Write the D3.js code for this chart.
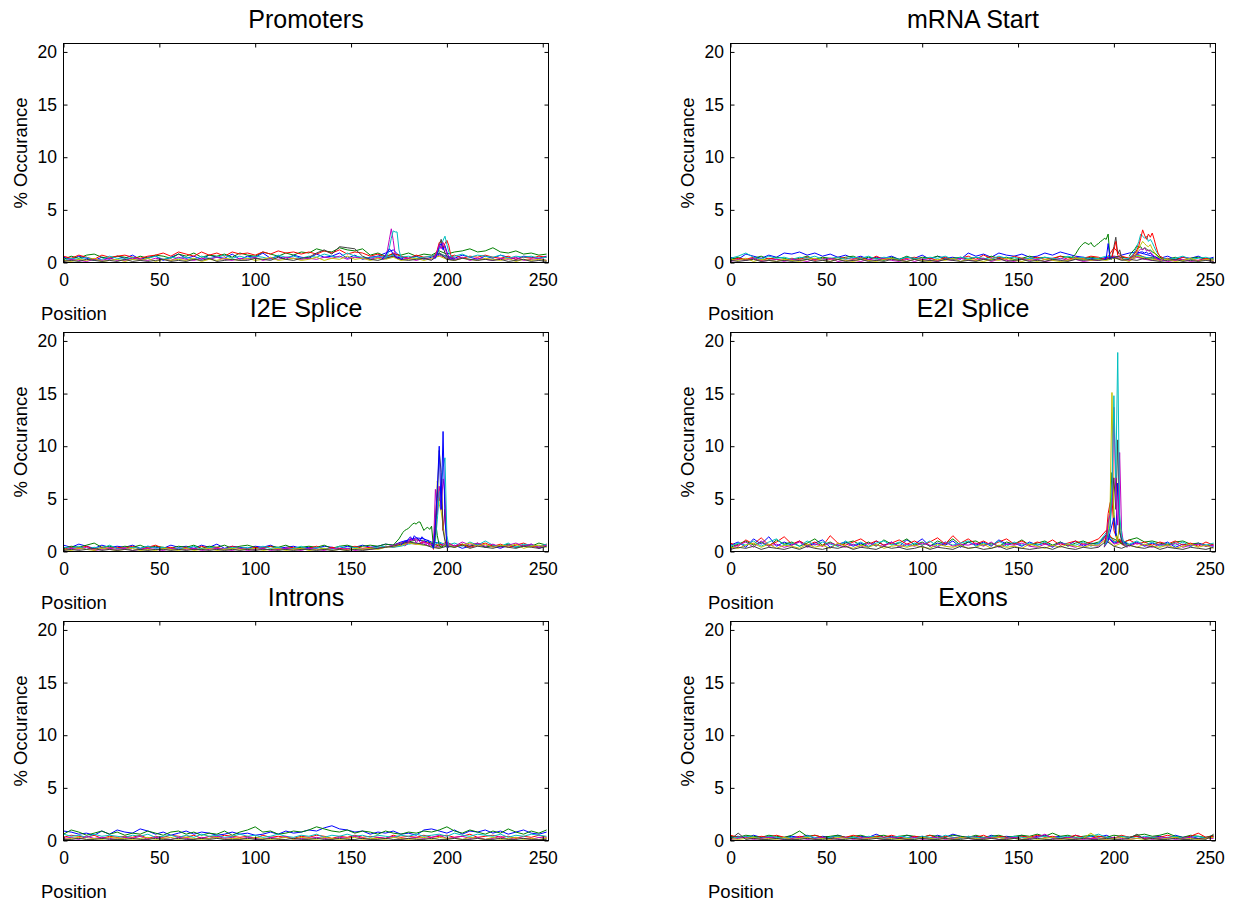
<!DOCTYPE html>
<html><head><meta charset="utf-8">
<script src="https://cdn.jsdelivr.net/npm/d3@7"></script>
<style>
html,body{margin:0;padding:0;background:#fff;}
svg{display:block;}
text{font-family:"Liberation Sans",Arial,Helvetica,sans-serif;fill:#000;}
</style>
</head><body>
<svg id="chart" width="1240" height="901"></svg>
<script>
// ---------------- DATA ----------------
const positions = d3.range(0, 253, 4); // 0,4,...,252 (64 sample positions)
const xTicks = [0, 50, 100, 150, 200, 250];
const yTicks = [0, 5, 10, 15, 20];
const panelTitles = ["Promoters", "mRNA Start", "I2E Splice", "E2I Splice", "Introns", "Exons"];
const xLabel = "Position";
const yLabel = "% Occurance";
// series order: 0 blue, 1 green, 2 red, 3 cyan, 4 magenta, 5 yellow, 6 black

const promotersBase = [
 [0.5,0.3,0.6,0.4,0.2,0.5,0.3,0.6, 0.4,0.7,0.3,0.5,0.6,0.2,0.5,0.8, 0.4,0.6,0.3,0.7,0.5,0.4,0.8,0.3, 0.6,0.5,0.9,0.4,0.6,0.3,0.7,0.5, 0.4,0.8,0.5,0.6,0.9,0.4,0.7,0.3, 0.5,0.6,0.9,1.2,0.5,0.4,0.6,0.3, 0.5,0.8,0.6,0.4,0.7,0.5,0.3,0.6, 0.4,0.7,0.5,0.3,0.6,0.5,0.4,0.6],
 [0.3,0.6,0.4,0.7,0.8,0.5,0.4,0.6, 0.5,0.3,0.6,0.4,0.7,0.6,0.4,0.8, 0.6,0.9,0.5,0.7,0.6,0.8,0.5,0.9, 0.7,0.6,1.0,0.8,0.6,0.9,0.7,1.0, 0.9,1.3,1.1,1.0,1.4,1.2,1.1,1.3, 0.7,0.9,0.6,0.8,0.7,0.9,0.6,0.8, 0.7,1.1,0.8,1.0,1.1,1.3,1.0,1.1, 1.4,1.0,0.9,1.1,0.8,0.9,0.7,0.8],
 [0.6,0.4,0.7,0.5,0.3,0.7,0.5,0.6, 0.7,0.5,0.4,0.6,0.7,0.9,0.6,1.0, 0.8,0.6,1.0,0.7,0.9,0.6,1.0,0.8, 0.9,0.7,1.0,0.8,1.1,0.9,1.0,0.8, 1.0,0.8,1.1,0.9,1.2,0.8,1.0,0.9, 0.6,0.8,0.5,0.9,0.6,0.4,0.7,0.5, 0.6,0.9,0.5,0.7,0.4,0.6,0.5,0.7, 0.5,0.4,0.6,0.3,0.5,0.4,0.6,0.5],
 [0.2,0.4,0.3,0.5,0.2,0.3,0.6,0.4, 0.3,0.5,0.2,0.4,0.6,0.3,0.5,0.4, 0.5,0.3,0.6,0.4,0.5,0.7,0.4,0.6, 0.4,0.6,0.5,0.3,0.7,0.5,0.6,0.4, 0.6,0.5,0.8,0.6,0.5,0.9,0.6,0.5, 0.4,0.6,0.5,0.7,0.5,0.6,0.4,0.5, 0.6,0.9,0.5,0.6,0.8,0.5,0.7,0.6, 0.5,0.7,0.4,0.6,0.5,0.6,0.4,0.5],
 [0.1,0.3,0.2,0.1,0.3,0.2,0.4,0.2, 0.2,0.4,0.3,0.2,0.4,0.3,0.2,0.5, 0.3,0.2,0.4,0.3,0.5,0.3,0.2,0.4, 0.3,0.5,0.2,0.4,0.3,0.5,0.4,0.3, 0.4,0.3,0.5,0.4,0.6,0.3,0.5,0.4, 0.3,0.5,0.4,0.6,0.3,0.4,0.2,0.4, 0.3,0.7,0.4,0.3,0.5,0.2,0.4,0.3, 0.2,0.4,0.3,0.5,0.2,0.3,0.4,0.2],
 [0.2,0.1,0.3,0.2,0.4,0.1,0.2,0.3, 0.1,0.3,0.2,0.4,0.1,0.3,0.2,0.3, 0.2,0.4,0.1,0.3,0.2,0.4,0.3,0.2, 0.4,0.2,0.3,0.5,0.2,0.3,0.4,0.2, 0.3,0.5,0.2,0.4,0.3,0.6,0.3,0.4, 0.2,0.4,0.3,0.5,0.2,0.3,0.4,0.2, 0.4,0.6,0.3,0.2,0.4,0.3,0.2,0.4, 0.3,0.2,0.4,0.1,0.3,0.2,0.3,0.2],
 [0.1,0.2,0.1,0.3,0.2,0.1,0.2,0.1, 0.3,0.1,0.2,0.1,0.2,0.3,0.1,0.2, 0.1,0.3,0.2,0.4,0.1,0.2,0.3,0.2, 0.2,0.4,0.3,0.2,0.5,0.3,0.2,0.4, 0.5,0.9,1.2,0.8,1.5,1.4,1.3,0.6, 0.3,0.2,0.4,0.6,0.3,0.2,0.3,0.4, 0.2,0.9,0.3,0.2,0.4,0.3,0.2,0.3, 0.2,0.3,0.1,0.2,0.3,0.1,0.2,0.1]
];
const promotersPeaks = [
 {series:4, start:166, values:[0.4,0.3,0.6,1.2,2.2,3.2,2.1,0.8,0.5,0.4,0.6,0.3]},
 {series:3, start:166, values:[0.3,0.5,0.4,0.7,1.4,2.3,3.0,2.9,2.9,1.2,0.5,0.4]},
 {series:0, start:166, values:[0.3,0.5,0.7,1.0,1.3,1.1,0.8,0.6,0.4,0.5,0.3,0.4]},
 {series:2, start:193, values:[0.5,0.7,1.2,1.9,2.0,1.4,1.8,2.1,1.6,0.7,0.5,0.4]},
 {series:3, start:193, values:[0.4,0.5,0.8,1.3,1.6,2.1,2.5,1.7,1.0,0.6,0.4,0.5]},
 {series:6, start:193, values:[0.3,0.6,1.0,1.6,2.2,1.5,0.9,0.6,0.4,0.5,0.3,0.4]},
 {series:0, start:193, values:[0.5,0.4,0.9,1.5,1.8,1.2,1.6,1.0,0.5,0.3,0.4,0.3]},
 {series:4, start:193, values:[0.4,0.6,1.1,1.7,1.3,1.9,1.4,0.8,0.6,0.4,0.5,0.3]}
];

const mrnaBase = [
 [0.5,0.3,0.8,0.6,0.4,0.7,0.5,0.9, 0.8,1.0,0.7,0.9,0.6,0.8,0.5,0.7, 0.4,0.6,0.3,0.5,0.4,0.6,0.3,0.5, 0.4,0.7,0.3,0.6,0.4,0.5,0.3,0.9, 0.6,0.8,0.5,0.9,0.7,0.6,0.8,0.5, 0.6,0.9,0.7,1.0,0.8,0.6,0.5,0.4, 0.3,0.5,0.4,0.7,0.9,1.0,0.8,0.6, 0.4,0.6,0.3,0.5,0.4,0.6,0.3,0.5],
 [0.3,0.5,0.2,0.4,0.6,0.3,0.5,0.4, 0.2,0.4,0.6,0.3,0.5,0.4,0.3,0.5, 0.6,0.3,0.5,0.4,0.2,0.5,0.3,0.6, 0.3,0.5,0.4,0.6,0.3,0.4,0.5,0.3, 0.5,0.3,0.6,0.4,0.5,0.3,0.4,0.6, 0.4,0.5,0.3,0.6,0.5,0.4,0.3,0.5, 0.4,0.3,0.6,0.5,0.4,0.6,0.3,0.5, 0.4,0.3,0.5,0.2,0.4,0.5,0.3,0.4],
 [0.2,0.4,0.3,0.5,0.2,0.4,0.3,0.2, 0.4,0.3,0.5,0.2,0.4,0.3,0.5,0.4, 0.3,0.5,0.2,0.6,0.3,0.4,0.2,0.4, 0.5,0.3,0.4,0.2,0.5,0.3,0.4,0.6, 0.3,0.7,0.4,0.5,0.3,0.6,0.4,0.3, 0.5,0.3,0.4,0.6,0.3,0.5,0.4,0.6, 0.5,0.3,1.4,0.6,0.4,0.8,0.5,0.4, 0.3,0.4,0.2,0.5,0.3,0.2,0.4,0.3],
 [0.4,0.6,0.9,0.5,0.3,0.6,0.4,0.5, 0.3,0.5,0.4,0.6,0.3,0.4,0.5,0.3, 0.5,0.4,0.6,0.3,0.5,0.4,0.3,0.5, 0.4,0.3,0.5,0.4,0.6,0.3,0.5,0.4, 0.5,0.4,0.3,0.6,0.4,0.5,0.3,0.4, 0.3,0.5,0.4,0.3,0.6,0.4,0.5,0.3, 0.4,0.6,0.5,0.3,0.4,0.7,0.5,0.4, 0.5,0.3,0.4,0.6,0.3,0.4,0.5,0.3],
 [0.1,0.3,0.2,0.4,0.1,0.2,0.3,0.1, 0.3,0.2,0.1,0.3,0.2,0.4,0.1,0.2, 0.2,0.1,0.3,0.2,0.4,0.2,0.1,0.3, 0.1,0.3,0.2,0.1,0.3,0.2,0.4,0.2, 0.2,0.4,0.1,0.3,0.2,0.1,0.3,0.2, 0.3,0.1,0.2,0.4,0.2,0.3,0.1,0.2, 0.2,0.4,0.6,0.3,0.2,0.5,0.3,0.2, 0.3,0.1,0.2,0.3,0.1,0.2,0.3,0.1],
 [0.3,0.2,0.4,0.1,0.3,0.2,0.1,0.3, 0.2,0.1,0.3,0.4,0.2,0.1,0.3,0.2, 0.1,0.3,0.2,0.1,0.3,0.4,0.2,0.1, 0.3,0.2,0.1,0.3,0.2,0.4,0.1,0.3, 0.2,0.1,0.3,0.2,0.4,0.2,0.1,0.3, 0.1,0.3,0.2,0.1,0.2,0.4,0.3,0.2, 0.3,0.2,0.4,0.3,0.1,0.6,0.4,0.3, 0.2,0.3,0.1,0.2,0.4,0.1,0.3,0.2],
 [0.2,0.1,0.2,0.3,0.1,0.2,0.1,0.2, 0.1,0.2,0.3,0.1,0.2,0.1,0.3,0.1, 0.2,0.3,0.1,0.2,0.1,0.3,0.2,0.1, 0.3,0.1,0.2,0.1,0.3,0.2,0.1,0.2, 0.1,0.3,0.2,0.4,0.1,0.2,0.3,0.1, 0.2,0.1,0.3,0.2,0.1,0.3,0.2,0.3, 0.2,0.3,0.5,0.2,0.3,0.2,0.4,0.2, 0.1,0.2,0.3,0.1,0.2,0.1,0.2,0.1]
];
const mrnaPeaks = [
 {series:1, start:178, values:[0.5,0.6,0.8,1.1,1.4,1.6,1.8,1.9,1.8,1.7,1.9,1.6,1.5,1.7,1.8,2.0,2.1,2.3,2.2,2.7,0.4,0.3]},
 {series:0, start:195, values:[0.3,0.4,1.8,0.3,0.5,0.4]},
 {series:6, start:198, values:[0.4,0.6,1.5,2.4,0.8,1.2,0.5,0.3]},
 {series:2, start:199, values:[0.5,1.2,2.0,0.7,0.5,0.4]},
 {series:1, start:208, values:[0.6,0.9,1.1,1.3,1.6,1.4,1.5,1.2,1.4,1.3,1.1,1.2,1.0,0.9,0.8,0.6,0.5,0.4,0.3]},
 {series:0, start:208, values:[0.3,0.4,0.6,0.7,0.8,0.9,1.0,1.0,0.9,1.0,0.8,0.9,0.7,0.6,0.5,0.4,0.3,0.3,0.2]},
 {series:4, start:208, values:[0.2,0.3,0.5,0.6,0.9,1.1,1.3,1.2,1.4,1.1,1.2,1.0,0.8,0.6,0.4,0.3,0.2,0.3,0.2]},
 {series:5, start:208, values:[0.3,0.4,0.5,0.7,1.0,1.4,1.7,2.0,1.8,1.6,1.5,1.7,1.3,1.0,0.7,0.5,0.4,0.3,0.4]},
 {series:3, start:208, values:[0.5,0.6,0.8,1.1,1.5,2.0,2.7,2.5,2.3,2.5,2.0,2.2,1.9,1.5,1.1,0.8,0.6,0.5,0.4]},
 {series:2, start:208, values:[0.4,0.5,0.7,0.9,1.2,1.6,2.3,3.1,2.6,2.2,2.7,2.4,2.8,2.2,1.5,0.9,0.6,0.5,0.4]}
];

const i2eBase = [
 [0.6,0.4,0.7,0.5,0.3,0.6,0.4,0.5, 0.4,0.6,0.3,0.5,0.4,0.3,0.6,0.4, 0.5,0.3,0.6,0.4,0.7,0.3,0.5,0.4, 0.3,0.5,0.4,0.6,0.3,0.4,0.5,0.3, 0.4,0.3,0.5,0.4,0.3,0.5,0.4,0.6, 0.4,0.5,0.7,0.6,0.9,1.1,1.3,1.2, 0.9,0.8,0.4,0.6,0.3,0.5,0.7,0.4, 0.5,0.3,0.6,0.4,0.5,0.7,0.3,0.5],
 [0.3,0.5,0.4,0.6,0.8,0.4,0.5,0.3, 0.5,0.4,0.6,0.3,0.5,0.4,0.3,0.5, 0.4,0.6,0.3,0.5,0.4,0.6,0.3,0.5, 0.6,0.4,0.3,0.5,0.4,0.6,0.3,0.4, 0.5,0.4,0.6,0.3,0.5,0.6,0.4,0.5, 0.6,0.5,0.7,0.6,0.8,0.9,1.1,1.0, 0.8,0.5,0.6,0.4,0.7,0.5,0.8,0.4, 0.6,0.5,0.7,0.4,0.6,0.5,0.8,0.6],
 [0.2,0.4,0.3,0.5,0.2,0.4,0.3,0.4, 0.3,0.5,0.2,0.4,0.6,0.3,0.4,0.2, 0.4,0.2,0.5,0.3,0.4,0.2,0.5,0.3, 0.2,0.4,0.3,0.5,0.2,0.3,0.4,0.2, 0.3,0.5,0.2,0.4,0.3,0.2,0.5,0.3, 0.4,0.3,0.5,0.4,0.6,0.8,0.7,0.9, 0.7,0.6,0.9,0.5,0.7,0.4,0.6,0.8, 0.5,0.7,0.4,0.6,0.8,0.5,0.4,0.7],
 [0.4,0.3,0.5,0.2,0.4,0.3,0.6,0.3, 0.2,0.4,0.3,0.5,0.3,0.4,0.2,0.3, 0.3,0.5,0.2,0.4,0.3,0.2,0.4,0.3, 0.4,0.2,0.5,0.3,0.4,0.2,0.3,0.5, 0.2,0.4,0.3,0.2,0.5,0.3,0.4,0.2, 0.3,0.4,0.5,0.4,0.5,0.7,0.8,0.6, 0.5,0.9,0.6,0.8,0.5,0.9,0.6,1.0, 0.6,0.5,0.8,0.4,0.7,0.6,0.5,0.7],
 [0.1,0.3,0.2,0.4,0.1,0.2,0.3,0.2, 0.3,0.1,0.2,0.3,0.2,0.1,0.3,0.2, 0.2,0.3,0.1,0.2,0.3,0.2,0.1,0.3, 0.1,0.2,0.3,0.1,0.2,0.3,0.2,0.1, 0.3,0.2,0.1,0.3,0.2,0.3,0.1,0.2, 0.2,0.3,0.4,0.6,0.8,1.0,1.2,0.9, 0.6,0.4,0.8,0.5,0.9,0.6,0.8,0.5, 0.7,0.4,0.6,0.8,0.5,0.7,0.4,0.6],
 [0.2,0.1,0.3,0.2,0.1,0.3,0.2,0.1, 0.2,0.3,0.1,0.2,0.1,0.3,0.2,0.1, 0.3,0.1,0.2,0.3,0.1,0.2,0.3,0.2, 0.2,0.3,0.1,0.2,0.3,0.1,0.2,0.3, 0.1,0.2,0.3,0.1,0.2,0.1,0.3,0.2, 0.3,0.2,0.4,0.5,0.6,0.8,0.7,0.6, 0.5,0.3,0.7,0.4,0.6,0.8,0.5,0.7, 0.4,0.6,0.5,0.7,0.3,0.5,0.6,0.4],
 [0.1,0.2,0.1,0.2,0.3,0.1,0.2,0.1, 0.2,0.1,0.2,0.1,0.2,0.2,0.1,0.2, 0.1,0.2,0.2,0.1,0.2,0.1,0.2,0.1, 0.2,0.1,0.2,0.2,0.1,0.2,0.1,0.2, 0.2,0.1,0.2,0.1,0.2,0.1,0.2,0.1, 0.2,0.3,0.4,0.5,0.7,0.9,0.8,0.7, 0.4,0.3,0.5,0.4,0.6,0.3,0.5,0.4, 0.3,0.5,0.4,0.3,0.5,0.4,0.3,0.5]
];
const i2ePeaks = [
 {series:0, start:176, values:[0.6,0.8,1.0,0.9,1.2,1.4,1.1,1.5,1.3,1.2,1.0,1.4,1.2,0.9,1.1,0.8]},
 {series:4, start:178, values:[0.5,0.7,0.9,1.3,1.0,1.2,0.8,1.1,0.9,0.7,1.0,0.6,0.8,0.5]},
 {series:1, start:172, values:[0.6,0.8,1.0,1.2,1.5,1.8,2.0,2.1,2.2,2.4,2.6,2.7,2.6,2.8,2.8,2.4,2.0,2.2,2.3,2.1,2.4,0.4,3.0,1.5,0.6,0.4,0.5]},
 {series:2, start:192, values:[0.6,0.2,3.2,5.8,4.8,6.0,2.0,4.0,0.9,0.5]},
 {series:5, start:192, values:[0.5,0.3,1.8,6.7,4.5,3.8,2.5,1.2,0.5,0.4]},
 {series:4, start:192, values:[0.7,0.4,5.9,3.5,6.2,4.0,6.9,5.5,0.8,0.5]},
 {series:3, start:192, values:[0.5,0.3,1.0,3.0,5.5,6.0,8.0,8.9,1.5,0.6]},
 {series:6, start:192, values:[0.6,0.4,1.5,5.0,9.6,7.5,2.0,1.0,0.5,0.4]},
 {series:0, start:192, values:[0.8,0.3,2.5,6.0,10.0,4.0,11.4,3.0,0.6,0.4]}
];

const e2iBase = [
 [0.6,0.9,0.4,1.2,0.7,1.4,0.5,0.9, 0.6,1.0,0.5,0.8,1.1,0.4,0.7,0.9, 0.5,0.8,0.4,1.0,0.6,0.9,0.5,1.1, 0.7,1.2,0.5,0.8,0.6,1.0,0.4,0.9, 0.6,0.9,0.5,1.1,0.7,0.8,0.5,0.9, 0.6,0.8,0.4,0.9,0.6,1.0,0.5,0.8, 0.7,1.6,0.8,1.0,0.6,0.9,0.5,0.8, 0.6,0.9,0.4,0.7,0.5,0.8,0.6,0.5],
 [0.4,0.7,1.0,0.6,0.9,0.5,1.1,0.7, 0.9,0.5,0.8,1.2,0.6,0.9,0.5,0.8, 1.0,0.6,0.9,0.5,1.1,0.7,0.8,1.2, 0.6,0.9,0.5,1.0,0.7,1.2,0.6,0.9, 1.0,0.6,0.8,0.5,0.9,0.7,1.1,0.6, 0.8,1.0,0.6,0.9,0.5,0.8,1.0,0.7, 0.9,1.5,1.2,0.8,1.1,1.3,0.9,1.0, 0.8,0.6,0.9,1.0,0.7,0.8,0.5,0.7],
 [0.8,0.5,1.1,0.7,1.3,0.6,0.9,1.4, 0.7,1.0,0.6,0.9,0.5,1.5,0.8,0.6, 0.9,1.2,0.7,1.0,0.6,0.8,1.1,0.7, 1.0,0.6,0.9,1.3,0.7,1.5,0.8,1.2, 0.7,1.0,0.6,0.9,1.2,0.7,1.0,0.6, 0.9,0.7,1.1,0.6,0.8,1.0,0.7,0.9, 1.2,2.0,1.0,0.8,1.1,0.7,0.9,0.6, 0.9,0.7,1.0,0.6,0.8,0.5,0.9,0.6],
 [0.5,0.8,0.6,1.0,0.5,0.9,1.2,0.6, 0.8,0.5,1.0,0.6,0.9,0.7,0.5,1.0, 0.6,0.9,0.5,0.8,1.0,0.6,0.9,0.5, 0.8,0.6,1.0,0.5,0.9,0.6,0.8,1.0, 0.5,0.8,0.6,1.0,0.5,0.9,0.6,0.8, 0.6,0.9,0.5,0.8,0.7,0.6,0.9,0.5, 0.8,1.8,0.9,1.1,0.7,1.0,0.6,0.9, 0.5,0.8,0.6,0.9,0.5,0.7,0.6,0.8],
 [0.3,0.6,0.9,0.4,1.0,0.5,0.7,0.4, 0.6,0.9,0.4,0.7,0.5,0.8,0.6,0.4, 0.7,0.4,0.8,0.6,0.5,0.9,0.4,0.7, 0.5,0.8,0.6,0.4,0.9,0.5,0.7,0.6, 0.8,0.5,0.9,0.4,0.7,0.6,0.8,0.5, 0.4,0.7,0.5,0.8,0.6,0.4,0.7,0.6, 0.5,1.5,0.7,0.9,0.5,0.8,0.6,0.4, 0.7,0.5,0.8,0.4,0.6,0.7,0.5,0.6],
 [0.4,0.3,0.6,0.8,0.4,0.7,0.3,0.6, 0.5,0.3,0.7,0.4,0.6,0.3,0.8,0.5, 0.3,0.6,0.4,0.7,0.3,0.5,0.6,0.4, 0.6,0.4,0.3,0.7,0.5,0.4,0.6,0.3, 0.4,0.7,0.3,0.6,0.4,0.5,0.3,0.7, 0.5,0.3,0.6,0.4,0.7,0.5,0.4,0.6, 0.6,1.2,0.5,0.8,0.6,0.4,0.7,0.5, 0.4,0.6,0.3,0.5,0.7,0.4,0.6,0.3],
 [0.2,0.4,0.3,0.5,0.2,0.4,0.3,0.2, 0.4,0.2,0.5,0.3,0.2,0.4,0.3,0.5, 0.2,0.4,0.3,0.2,0.5,0.3,0.4,0.2, 0.3,0.5,0.2,0.4,0.3,0.2,0.5,0.3, 0.4,0.2,0.3,0.5,0.2,0.4,0.3,0.2, 0.3,0.4,0.2,0.5,0.3,0.2,0.4,0.3, 0.4,1.0,0.5,0.3,0.6,0.4,0.3,0.5, 0.2,0.4,0.3,0.2,0.4,0.3,0.2,0.4]
];
const e2iPeaks = [
 {series:2, start:195, values:[0.8,1.5,3.6,4.6,5.1,2.0,1.5,0.9,1.2,0.7,0.6,0.8,0.5]},
 {series:1, start:195, values:[0.7,1.2,2.5,4.0,7.5,3.5,1.8,1.2,0.9,0.7,1.0,0.6,0.8]},
 {series:5, start:195, values:[0.6,0.9,2.0,4.0,15.1,3.0,1.5,1.0,3.0,1.2,0.8,0.6,0.5]},
 {series:0, start:195, values:[0.5,0.7,1.0,1.8,2.5,3.2,1.5,6.5,1.8,1.2,0.7,0.9,0.5]},
 {series:6, start:195, values:[0.4,0.9,1.6,2.4,5.0,7.0,4.0,10.6,2.0,1.0,0.6,0.5,0.4]},
 {series:4, start:195, values:[0.5,1.0,2.8,3.5,4.5,13.7,5.0,2.5,9.4,2.0,0.8,0.6,0.5]},
 {series:3, start:195, values:[0.6,0.8,1.5,2.5,6.0,14.8,7.0,18.9,3.5,1.5,0.9,0.7,0.6]}
];

const intronsBase = [
 [0.9,0.8,0.6,0.7,0.5,0.9,0.6,1.0, 0.8,0.7,1.1,0.9,0.6,0.8,0.5,0.7, 0.9,0.6,0.8,0.7,0.5,0.6,0.8,0.6, 0.7,0.5,0.6,0.8,0.6,0.9,0.7,0.8, 1.0,0.9,1.2,1.4,1.1,1.0,0.8,0.9, 0.6,0.8,0.7,0.9,0.6,0.7,0.5,1.0, 1.1,0.9,0.7,1.0,0.6,0.9,0.8,1.0, 0.7,0.9,0.6,0.8,1.0,0.7,0.6,0.8],
 [0.6,1.0,0.8,0.5,0.7,0.9,0.6,0.8, 0.5,0.7,0.6,0.9,0.7,0.5,0.8,0.9, 0.6,0.8,0.5,0.7,0.6,0.9,0.5,0.8, 1.0,1.3,0.8,0.9,0.6,0.7,0.9,0.8, 1.0,1.3,1.1,0.9,0.8,1.0,0.7,0.9, 0.8,0.6,0.9,0.7,0.6,0.8,0.7,0.9, 0.8,1.0,1.3,0.9,0.7,1.0,0.8,0.6, 0.9,0.7,1.1,0.8,0.6,0.9,0.7,1.0],
 [0.3,0.5,0.4,0.3,0.5,0.2,0.4,0.3, 0.4,0.3,0.5,0.2,0.4,0.3,0.5,0.4, 0.3,0.5,0.2,0.4,0.3,0.5,0.4,0.3, 0.4,0.2,0.5,0.3,0.4,0.3,0.2,0.4, 0.3,0.5,0.4,0.2,0.4,0.3,0.5,0.3, 0.4,0.3,0.2,0.5,0.3,0.4,0.3,0.5, 0.3,0.4,0.5,0.3,0.4,0.6,0.3,0.4, 0.5,0.3,0.4,0.2,0.4,0.3,0.5,0.3],
 [0.6,0.4,0.5,0.3,0.6,0.4,0.5,0.4, 0.3,0.5,0.4,0.6,0.3,0.4,0.5,0.3, 0.5,0.3,0.6,0.4,0.5,0.3,0.4,0.6, 0.4,0.5,0.3,0.4,0.6,0.4,0.3,0.5, 0.4,0.6,0.3,0.5,0.4,0.6,0.4,0.5, 0.3,0.5,0.4,0.3,0.5,0.4,0.6,0.4, 0.5,0.6,0.4,0.7,0.5,0.4,0.6,0.5, 0.4,0.6,0.3,0.5,0.4,0.6,0.5,0.4],
 [0.2,0.3,0.1,0.4,0.2,0.3,0.2,0.1, 0.3,0.2,0.4,0.1,0.3,0.2,0.1,0.3, 0.2,0.1,0.3,0.2,0.4,0.2,0.3,0.1, 0.3,0.2,0.1,0.3,0.2,0.4,0.1,0.2, 0.2,0.3,0.2,0.1,0.3,0.2,0.4,0.2, 0.1,0.3,0.2,0.4,0.1,0.2,0.3,0.2, 0.3,0.5,0.2,0.3,0.4,0.2,0.3,0.1, 0.2,0.4,0.1,0.3,0.2,0.1,0.3,0.2],
 [0.1,0.2,0.3,0.1,0.2,0.1,0.3,0.2, 0.2,0.1,0.2,0.3,0.1,0.2,0.3,0.1, 0.3,0.2,0.1,0.2,0.3,0.1,0.2,0.2, 0.1,0.3,0.2,0.1,0.2,0.3,0.1,0.3, 0.2,0.1,0.3,0.2,0.1,0.2,0.3,0.1, 0.2,0.2,0.1,0.3,0.2,0.1,0.2,0.3, 0.1,0.3,0.2,0.2,0.1,0.3,0.2,0.1, 0.3,0.1,0.2,0.3,0.1,0.2,0.1,0.2],
 [0.1,0.1,0.2,0.1,0.1,0.2,0.1,0.1, 0.1,0.2,0.1,0.1,0.2,0.1,0.1,0.2, 0.1,0.1,0.2,0.1,0.2,0.1,0.1,0.1, 0.2,0.1,0.1,0.2,0.1,0.1,0.2,0.1, 0.1,0.2,0.1,0.1,0.2,0.1,0.1,0.2, 0.1,0.1,0.2,0.1,0.1,0.2,0.1,0.1, 0.2,0.1,0.1,0.2,0.1,0.1,0.2,0.1, 0.1,0.2,0.1,0.1,0.2,0.1,0.1,0.1]
];
const intronsPeaks = [];

const exonsBase = [
 [0.3,0.4,0.2,0.5,0.3,0.4,0.2,0.3, 0.4,0.3,0.5,0.2,0.4,0.3,0.5,0.3, 0.2,0.4,0.3,0.6,0.3,0.4,0.2,0.5, 0.3,0.4,0.2,0.5,0.3,0.6,0.4,0.3, 0.4,0.2,0.5,0.3,0.4,0.3,0.5,0.2, 0.4,0.5,0.3,0.4,0.2,0.5,0.3,0.4, 0.3,0.5,0.2,0.4,0.3,0.4,0.2,0.3, 0.4,0.2,0.5,0.3,0.4,0.2,0.3,0.4],
 [0.4,0.3,0.5,0.4,0.3,0.5,0.4,0.3, 0.5,0.9,0.4,0.5,0.3,0.4,0.5,0.3, 0.4,0.5,0.3,0.4,0.5,0.3,0.4,0.5, 0.4,0.3,0.5,0.4,0.3,0.5,0.4,0.3, 0.5,0.3,0.4,0.5,0.3,0.4,0.5,0.4, 0.6,0.4,0.7,0.4,0.5,0.3,0.4,0.5, 0.4,0.3,0.5,0.4,0.3,0.5,0.6,0.4, 0.5,0.7,0.4,0.3,0.5,0.4,0.3,0.5],
 [0.5,0.3,0.4,0.2,0.4,0.3,0.5,0.3, 0.2,0.4,0.3,0.5,0.3,0.2,0.4,0.3, 0.5,0.3,0.2,0.4,0.3,0.5,0.3,0.2, 0.4,0.3,0.5,0.2,0.4,0.3,0.2,0.4, 0.3,0.5,0.2,0.4,0.3,0.2,0.4,0.3, 0.5,0.3,0.4,0.2,0.3,0.5,0.3,0.2, 0.4,0.3,0.2,0.5,0.3,0.4,0.2,0.3, 0.3,0.5,0.3,0.2,0.4,0.7,0.3,0.4],
 [0.2,0.3,0.4,0.3,0.2,0.4,0.3,0.2, 0.3,0.2,0.4,0.3,0.2,0.3,0.4,0.2, 0.3,0.2,0.4,0.3,0.2,0.3,0.4,0.3, 0.2,0.4,0.3,0.2,0.5,0.3,0.2,0.4, 0.3,0.2,0.4,0.3,0.2,0.4,0.3,0.2, 0.3,0.4,0.2,0.3,0.4,0.2,0.3,0.4, 0.6,0.3,0.2,0.4,0.3,0.2,0.4,0.3, 0.2,0.3,0.4,0.2,0.3,0.4,0.2,0.3],
 [0.1,0.2,0.3,0.1,0.2,0.3,0.2,0.1, 0.2,0.3,0.1,0.2,0.3,0.1,0.2,0.3, 0.1,0.2,0.3,0.2,0.1,0.3,0.2,0.1, 0.3,0.1,0.2,0.3,0.1,0.2,0.3,0.2, 0.1,0.2,0.3,0.1,0.2,0.3,0.1,0.2, 0.3,0.6,0.2,0.1,0.3,0.2,0.1,0.2, 0.2,0.1,0.3,0.2,0.1,0.2,0.3,0.1, 0.2,0.3,0.1,0.2,0.3,0.1,0.2,0.2],
 [0.2,0.1,0.2,0.3,0.1,0.2,0.1,0.3, 0.1,0.2,0.3,0.1,0.2,0.1,0.3,0.2, 0.2,0.1,0.2,0.3,0.1,0.2,0.1,0.2, 0.1,0.3,0.2,0.1,0.2,0.1,0.3,0.2, 0.2,0.1,0.2,0.3,0.1,0.2,0.1,0.3, 0.1,0.2,0.3,0.1,0.2,0.1,0.2,0.7, 0.2,0.1,0.2,0.3,0.1,0.2,0.1,0.2, 0.1,0.2,0.3,0.1,0.2,0.1,0.2,0.3],
 [0.1,0.7,0.1,0.2,0.1,0.1,0.2,0.1, 0.1,0.1,0.2,0.1,0.1,0.2,0.1,0.1, 0.2,0.1,0.1,0.2,0.1,0.1,0.2,0.1, 0.1,0.2,0.1,0.1,0.2,0.1,0.1,0.2, 0.1,0.1,0.2,0.1,0.1,0.2,0.1,0.1, 0.2,0.1,0.1,0.2,0.1,0.1,0.2,0.1, 0.1,0.2,0.1,0.1,0.2,0.6,0.1,0.2, 0.1,0.1,0.2,0.1,0.1,0.2,0.1,0.6]
];
const exonsPeaks = [];

// ---------------- DRAWING ----------------
const seriesColors = ["#0000ff", "#008000", "#ff0000", "#00bfbf", "#bf00bf", "#bfbf00", "#404040"];
const panels = [
  {title: panelTitles[0], base: promotersBase, peaks: promotersPeaks},
  {title: panelTitles[1], base: mrnaBase, peaks: mrnaPeaks},
  {title: panelTitles[2], base: i2eBase, peaks: i2ePeaks},
  {title: panelTitles[3], base: e2iBase, peaks: e2iPeaks},
  {title: panelTitles[4], base: intronsBase, peaks: intronsPeaks},
  {title: panelTitles[5], base: exonsBase, peaks: exonsPeaks}
];

const svg = d3.select("#chart");
const colX = [63.5, 730.5];
const rowY = [43.5, 332.5, 621.5];
const W = 485, H = 219;
const FONT = '"Liberation Sans", Arial, Helvetica, sans-serif';

panels.forEach((p, i) => {
  const x0 = colX[i % 2], y0 = rowY[Math.floor(i / 2)];
  const x = d3.scaleLinear().domain([0, 253]).range([x0, x0 + W]);
  const y = d3.scaleLinear().domain([0, 20.8]).range([y0 + H, y0]);
  const g = svg.append("g");

  const clipId = "clip" + i;
  g.append("clipPath").attr("id", clipId)
    .append("rect").attr("x", x0).attr("y", y0).attr("width", W).attr("height", H);

  const lines = g.append("g").attr("clip-path", `url(#${clipId})`);
  const line = d3.line().x(d => x(d[0])).y(d => y(d[1]));

  p.base.forEach((vals, k) => {
    lines.append("path")
      .datum(vals.map((v, j) => [positions[j], v]))
      .attr("d", line)
      .attr("fill", "none")
      .attr("stroke", seriesColors[k])
      .attr("stroke-width", 1)
      .attr("stroke-linejoin", "round");
  });
  p.peaks.forEach(pk => {
    lines.append("path")
      .datum(pk.values.map((v, j) => [pk.start + j, v]))
      .attr("d", line)
      .attr("fill", "none")
      .attr("stroke", seriesColors[pk.series])
      .attr("stroke-width", 1)
      .attr("stroke-linejoin", "round");
  });

  // axes (ticks inward, MATLAB style)
  const axB = g.append("g").attr("transform", `translate(0,${y0 + H})`)
    .call(d3.axisBottom(x).tickValues(xTicks).tickSizeInner(-4).tickSizeOuter(0).tickPadding(10.6));
  const axL = g.append("g").attr("transform", `translate(${x0},0)`)
    .call(d3.axisLeft(y).tickValues(yTicks).tickSizeInner(-4).tickSizeOuter(0).tickPadding(6.5));
  const axT = g.append("g").attr("transform", `translate(0,${y0})`)
    .call(d3.axisTop(x).tickValues(xTicks).tickSizeInner(-4).tickSizeOuter(0).tickFormat(""));
  const axR = g.append("g").attr("transform", `translate(${x0 + W},0)`)
    .call(d3.axisRight(y).tickValues(yTicks).tickSizeInner(-4).tickSizeOuter(0).tickFormat(""));
  [axB, axL, axT, axR].forEach(a => {
    a.select(".domain").remove();
    a.attr("font-size", 17.5).attr("font-family", FONT);
    a.selectAll("line").attr("stroke", "#000");
    a.selectAll("text").attr("fill", "#000");
  });

  g.append("rect").attr("x", x0).attr("y", y0).attr("width", W).attr("height", H)
    .attr("fill", "none").attr("stroke", "#000").attr("stroke-width", 1);

  g.append("text").attr("x", x0 + W / 2).attr("y", y0 - 16)
    .attr("text-anchor", "middle").attr("font-size", 25).text(p.title);

  g.append("text").attr("transform", `translate(${x0 - 36.5},${y0 + H / 2}) rotate(-90)`)
    .attr("text-anchor", "middle").attr("font-size", 18.5).text(yLabel);

  g.append("text").attr("x", x0 - 22.5).attr("y", y0 + H + 57.5)
    .attr("font-size", 18.5).text(xLabel);
});
</script>
</body></html>
